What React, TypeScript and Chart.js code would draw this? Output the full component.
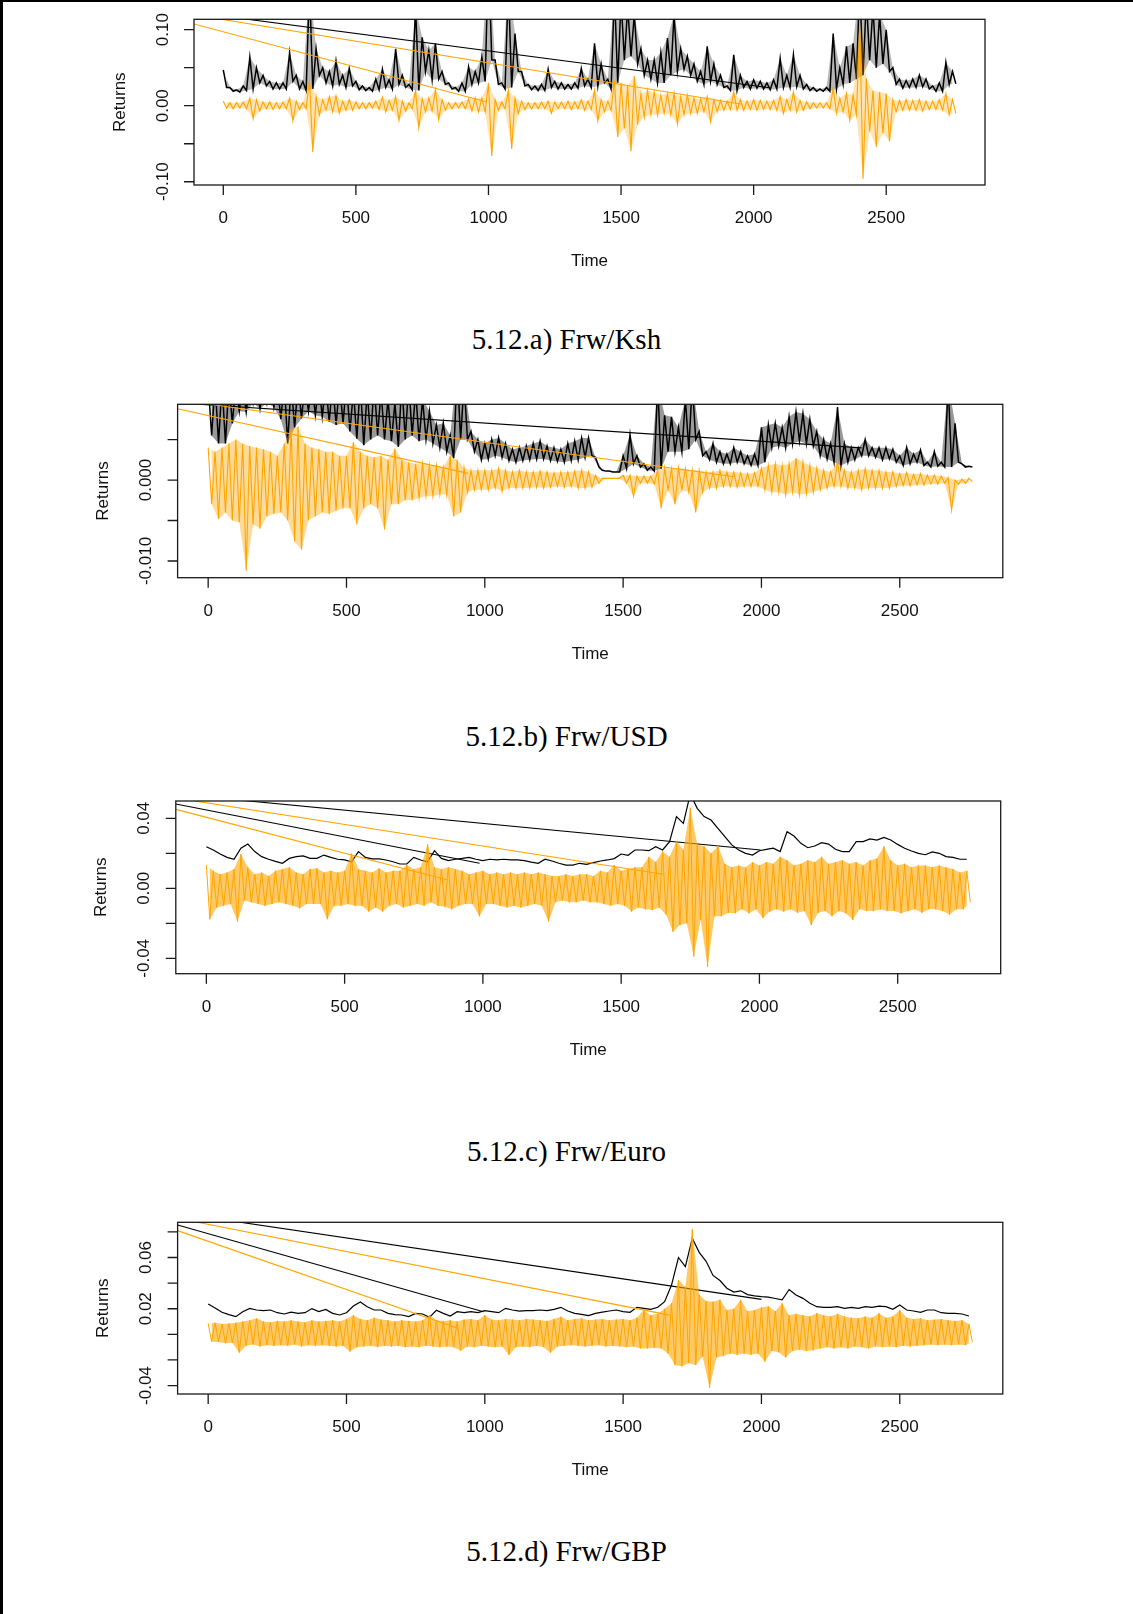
import { useEffect, useRef } from "react";
import { Chart, registerables } from "chart.js";

Chart.register(...registerables);

// Every series is stored per 25-step bin of the time axis (high and low of the bin).
const STEP = 25;
const X_MIN = -110.5;
const X_MAX = 2872.5;
const X_TICKS = [0, 500, 1000, 1500, 2000, 2500];

// ---------- 5.12.a) Frw/Ksh ----------
const kshVolHi = [
  0.047, 0.024, 0.021, 0.026, 0.064, 0.050, 0.040, 0.032, 0.030, 0.030,
  0.070, 0.040, 0.032, 0.160, 0.075, 0.050, 0.045, 0.059, 0.040, 0.049,
  0.032, 0.026, 0.024, 0.035, 0.048, 0.034, 0.075, 0.040, 0.028, 0.130,
  0.090, 0.073, 0.082, 0.045, 0.030, 0.024, 0.030, 0.051, 0.045, 0.064,
  0.200, 0.060, 0.030, 0.160, 0.095, 0.045, 0.028, 0.026, 0.028, 0.048,
  0.032, 0.030, 0.028, 0.030, 0.049, 0.035, 0.082, 0.055, 0.035, 0.150,
  0.140, 0.130, 0.120, 0.075, 0.060, 0.060, 0.070, 0.089, 0.120, 0.075,
  0.065, 0.055, 0.045, 0.078, 0.055, 0.040, 0.026, 0.067, 0.040, 0.032,
  0.034, 0.032, 0.030, 0.034, 0.062, 0.040, 0.067, 0.040, 0.028, 0.024,
  0.022, 0.024, 0.095, 0.050, 0.078, 0.082, 0.160, 0.140, 0.130, 0.120,
  0.100, 0.050, 0.035, 0.033, 0.035, 0.040, 0.035, 0.026, 0.030, 0.057, 0.045,
];
const kshVolLo = [
  0.024, 0.019, 0.018, 0.020, 0.022, 0.030, 0.026, 0.022, 0.022, 0.022,
  0.032, 0.022, 0.020, 0.022, 0.040, 0.030, 0.026, 0.028, 0.024, 0.026,
  0.021, 0.020, 0.019, 0.021, 0.024, 0.022, 0.028, 0.024, 0.021, 0.020,
  0.045, 0.034, 0.035, 0.028, 0.022, 0.019, 0.019, 0.028, 0.030, 0.032,
  0.060, 0.028, 0.022, 0.024, 0.045, 0.026, 0.021, 0.020, 0.020, 0.024,
  0.022, 0.022, 0.022, 0.023, 0.026, 0.024, 0.026, 0.030, 0.022, 0.030,
  0.060, 0.065, 0.055, 0.040, 0.035, 0.030, 0.030, 0.040, 0.045, 0.048,
  0.040, 0.032, 0.028, 0.032, 0.028, 0.024, 0.020, 0.020, 0.024, 0.022,
  0.023, 0.022, 0.021, 0.022, 0.024, 0.024, 0.025, 0.022, 0.020, 0.019,
  0.019, 0.019, 0.022, 0.028, 0.030, 0.035, 0.040, 0.060, 0.050, 0.055,
  0.045, 0.028, 0.023, 0.024, 0.024, 0.025, 0.022, 0.019, 0.019, 0.028, 0.029,
];
const kshRetHi = [
  0.006, 0.004, 0.004, 0.005, 0.010, 0.008, 0.005, 0.005, 0.004, 0.005,
  0.010, 0.006, 0.004, 0.034, 0.012, 0.008, 0.012, 0.013, 0.006, 0.008,
  0.005, 0.004, 0.004, 0.006, 0.011, 0.007, 0.012, 0.006, 0.004, 0.020,
  0.009, 0.010, 0.021, 0.008, 0.004, 0.004, 0.005, 0.009, 0.010, 0.010,
  0.030, 0.008, 0.005, 0.020, 0.010, 0.006, 0.004, 0.004, 0.005, 0.006,
  0.005, 0.005, 0.006, 0.005, 0.008, 0.006, 0.020, 0.008, 0.006, 0.034,
  0.030, 0.026, 0.039, 0.016, 0.020, 0.018, 0.014, 0.016, 0.016, 0.012,
  0.014, 0.010, 0.009, 0.012, 0.008, 0.007, 0.006, 0.018, 0.008, 0.006,
  0.008, 0.007, 0.006, 0.007, 0.012, 0.008, 0.018, 0.007, 0.005, 0.004,
  0.004, 0.004, 0.023, 0.010, 0.016, 0.014, 0.105, 0.036, 0.020, 0.018,
  0.016, 0.008, 0.007, 0.008, 0.007, 0.008, 0.006, 0.006, 0.008, 0.016, 0.008,
];
const kshRetLo = [
  -0.003, -0.004, -0.003, -0.004, -0.017, -0.007, -0.004, -0.005, -0.004, -0.004,
  -0.020, -0.005, -0.004, -0.061, -0.012, -0.006, -0.008, -0.010, -0.006, -0.006,
  -0.004, -0.004, -0.003, -0.005, -0.008, -0.006, -0.019, -0.007, -0.004, -0.029,
  -0.008, -0.007, -0.018, -0.006, -0.004, -0.003, -0.004, -0.007, -0.008, -0.008,
  -0.066, -0.006, -0.004, -0.057, -0.010, -0.005, -0.004, -0.004, -0.004, -0.010,
  -0.004, -0.004, -0.005, -0.004, -0.006, -0.005, -0.020, -0.008, -0.006, -0.041,
  -0.030, -0.060, -0.025, -0.015, -0.012, -0.012, -0.010, -0.012, -0.024, -0.012,
  -0.010, -0.010, -0.008, -0.021, -0.008, -0.006, -0.005, -0.006, -0.006, -0.005,
  -0.006, -0.005, -0.005, -0.006, -0.010, -0.006, -0.008, -0.006, -0.004, -0.003,
  -0.003, -0.004, -0.010, -0.008, -0.019, -0.012, -0.096, -0.034, -0.054, -0.036,
  -0.047, -0.008, -0.006, -0.006, -0.006, -0.007, -0.005, -0.005, -0.006, -0.012, -0.010,
];
// Straight return strokes: [t0, v0, t1, v1]
const kshBlackSegs = [[-110.5, 0.123, 2060, 0.0237]];
const kshOrangeSegs = [
  [-110.5, 0.1196, 1957, 0.002],
  [-110.5, 0.1075, 994, 0.005],
];
const kshYTicks = [-0.1, -0.05, 0, 0.05, 0.1];
const kshYLabels = ["-0.10", "", "0.00", "", "0.10"];

// ---------- 5.12.b) Frw/USD ----------
const usdVolHi = [
  0.012, 0.012, 0.012, 0.012, 0.012, 0.012, 0.012, 0.012, 0.012, 0.012,
  0.012, 0.012, 0.012, 0.012, 0.012, 0.012, 0.012, 0.012, 0.012, 0.012,
  0.012, 0.011, 0.012, 0.011, 0.012, 0.011, 0.010, 0.0095, 0.012, 0.012,
  0.011, 0.010, 0.0085, 0.0068, 0.0070, 0.0055, 0.014, 0.012, 0.0060, 0.0050,
  0.0045, 0.0050, 0.0052, 0.0045, 0.0038, 0.0040, 0.0042, 0.0045, 0.0048, 0.0042,
  0.0040, 0.0038, 0.0045, 0.0048, 0.0052, 0.0052, 0.0028, 0.0012, 0.0011, 0.0010,
  0.0030, 0.0056, 0.0030, 0.0020, 0.0016, 0.012, 0.0080, 0.0078, 0.0065, 0.0100,
  0.012, 0.0060, 0.0035, 0.0045, 0.0035, 0.0032, 0.0040, 0.0035, 0.0030, 0.0032,
  0.0065, 0.0068, 0.0070, 0.0065, 0.0078, 0.0084, 0.0082, 0.0075, 0.0060, 0.0050,
  0.0045, 0.0090, 0.0045, 0.0040, 0.0040, 0.0050, 0.0040, 0.0040, 0.0040, 0.0038,
  0.0030, 0.0040, 0.0032, 0.0037, 0.0022, 0.0035, 0.0022, 0.012, 0.0070, 0.0020, 0.0017,
];
const usdVolLo = [
  0.0055, 0.0045, 0.0045, 0.0070, 0.0085, 0.0084, 0.0095, 0.0088, 0.0095, 0.0090,
  0.0075, 0.0045, 0.0065, 0.0076, 0.0085, 0.0080, 0.0078, 0.0072, 0.0068, 0.0070,
  0.0060, 0.0051, 0.0043, 0.0050, 0.0055, 0.0050, 0.0048, 0.0041, 0.0050, 0.0055,
  0.0048, 0.0050, 0.0045, 0.0040, 0.0035, 0.0027, 0.0050, 0.0050, 0.0035, 0.0025,
  0.0026, 0.0030, 0.0028, 0.0024, 0.0022, 0.0024, 0.0025, 0.0026, 0.0026, 0.0024,
  0.0023, 0.0022, 0.0024, 0.0025, 0.0028, 0.0030, 0.0016, 0.0011, 0.0010, 0.0010,
  0.0014, 0.0020, 0.0016, 0.0012, 0.0011, 0.0014, 0.0035, 0.0035, 0.0035, 0.0038,
  0.0050, 0.0030, 0.0025, 0.0022, 0.0020, 0.0020, 0.0022, 0.0020, 0.0018, 0.0018,
  0.0022, 0.0040, 0.0042, 0.0040, 0.0045, 0.0048, 0.0045, 0.0042, 0.0030, 0.0026,
  0.0022, 0.0018, 0.0022, 0.0025, 0.0030, 0.0030, 0.0028, 0.0025, 0.0026, 0.0022,
  0.0018, 0.0020, 0.0022, 0.0018, 0.0016, 0.0017, 0.0016, 0.0016, 0.0022, 0.0016, 0.0016,
];
const usdRetHi = [
  0.0040, 0.0035, 0.0040, 0.0045, 0.0050, 0.0045, 0.0042, 0.0040, 0.0038, 0.0035,
  0.0030, 0.0045, 0.0063, 0.0066, 0.0045, 0.0040, 0.0038, 0.0035, 0.0035, 0.0030,
  0.0030, 0.0047, 0.0035, 0.0030, 0.0028, 0.0030, 0.0025, 0.0039, 0.0025, 0.0022,
  0.0020, 0.0020, 0.0018, 0.0018, 0.0016, 0.0030, 0.0025, 0.0015, 0.0012, 0.0012,
  0.0012, 0.0012, 0.0014, 0.0012, 0.0010, 0.0012, 0.0010, 0.0010, 0.0011, 0.0010,
  0.0009, 0.0010, 0.0010, 0.0011, 0.0012, 0.0010, 0.0006, 0.0002, 0.0002, 0.0002,
  0.0006, 0.0006, 0.0005, 0.0005, 0.0005, 0.0012, 0.0015, 0.0014, 0.0015, 0.0014,
  0.0012, 0.0012, 0.0010, 0.0010, 0.0012, 0.0010, 0.0010, 0.0009, 0.0008, 0.0009,
  0.0015, 0.0018, 0.0020, 0.0018, 0.0020, 0.0027, 0.0022, 0.0018, 0.0015, 0.0012,
  0.0010, 0.0023, 0.0012, 0.0010, 0.0012, 0.0014, 0.0012, 0.0012, 0.0010, 0.0010,
  0.0008, 0.0009, 0.0007, 0.0008, 0.0006, 0.0006, 0.0005, 0.0003, 0.0000, 0.0001, 0.0002,
];
const usdRetLo = [
  -0.0030, -0.0048, -0.0040, -0.0050, -0.0052, -0.0112, -0.0055, -0.0060, -0.0045, -0.0042,
  -0.0040, -0.0050, -0.0076, -0.0086, -0.0050, -0.0045, -0.0040, -0.0042, -0.0038, -0.0035,
  -0.0035, -0.0055, -0.0035, -0.0030, -0.0035, -0.0061, -0.0030, -0.0030, -0.0025, -0.0025,
  -0.0022, -0.0020, -0.0020, -0.0018, -0.0018, -0.0045, -0.0040, -0.0015, -0.0012, -0.0012,
  -0.0012, -0.0010, -0.0014, -0.0010, -0.0010, -0.0010, -0.0010, -0.0009, -0.0010, -0.0009,
  -0.0008, -0.0009, -0.0008, -0.0010, -0.0010, -0.0009, -0.0004, 0.0002, 0.0002, 0.0002,
  -0.0004, -0.0020, -0.0004, -0.0004, -0.0005, -0.0035, -0.0012, -0.0030, -0.0012, -0.0015,
  -0.0040, -0.0015, -0.0010, -0.0010, -0.0008, -0.0008, -0.0009, -0.0008, -0.0008, -0.0008,
  -0.0012, -0.0015, -0.0015, -0.0018, -0.0015, -0.0018, -0.0017, -0.0015, -0.0012, -0.0010,
  -0.0008, -0.0008, -0.0010, -0.0010, -0.0012, -0.0010, -0.0010, -0.0010, -0.0010, -0.0008,
  -0.0007, -0.0007, -0.0006, -0.0006, -0.0005, -0.0005, -0.0004, -0.0037, -0.0005, -0.0004, -0.0002,
];
const usdBlackSegs = [[-110.5, 0.00953, 2362, 0.00397]];
const usdOrangeSegs = [
  [-110.5, 0.0099, 1902, 0.0004],
  [-110.5, 0.0088, 940, 0.00082],
];
const usdYTicks = [-0.01, -0.005, 0, 0.005];
const usdYLabels = ["-0.010", "", "0.000", ""];

// ---------- 5.12.c) Frw/Euro ----------
const euroVol = [
  0.0238, 0.0219, 0.0196, 0.0177, 0.0166, 0.0229, 0.0253, 0.0210, 0.0181, 0.0166,
  0.0154, 0.0143, 0.0171, 0.0181, 0.0185, 0.0171, 0.0171, 0.0190, 0.0177, 0.0166,
  0.0162, 0.0152, 0.0210, 0.0177, 0.0168, 0.0168, 0.0162, 0.0152, 0.0139, 0.0139,
  0.0177, 0.0162, 0.0152, 0.0215, 0.0171, 0.0158, 0.0166, 0.0171, 0.0177, 0.0166,
  0.0158, 0.0166, 0.0162, 0.0166, 0.0162, 0.0162, 0.0158, 0.0150, 0.0143, 0.0166,
  0.0156, 0.0143, 0.0133, 0.0133, 0.0143, 0.0137, 0.0147, 0.0156, 0.0162, 0.0170,
  0.0196, 0.0189, 0.0219, 0.0219, 0.0215, 0.0238, 0.0219, 0.0267, 0.0410, 0.0371,
  0.0540, 0.0457, 0.0410, 0.0390, 0.0343, 0.0295, 0.0248, 0.0219, 0.0200, 0.0190,
  0.0215, 0.0223, 0.0229, 0.0210, 0.0324, 0.0299, 0.0257, 0.0232, 0.0242, 0.0261,
  0.0253, 0.0223, 0.0210, 0.0210, 0.0267, 0.0267, 0.0282, 0.0276, 0.0291, 0.0276,
  0.0251, 0.0229, 0.0213, 0.0200, 0.0192, 0.0208, 0.0200, 0.0181, 0.0177, 0.0166, 0.0166,
];
const euroRetHi = [
  0.0133, 0.010, 0.008, 0.009, 0.011, 0.0196, 0.012, 0.008, 0.009, 0.007,
  0.010, 0.011, 0.012, 0.009, 0.008, 0.011, 0.0114, 0.009, 0.010, 0.009,
  0.010, 0.020, 0.011, 0.010, 0.009, 0.0114, 0.009, 0.010, 0.010, 0.0133,
  0.011, 0.012, 0.0253, 0.012, 0.011, 0.012, 0.011, 0.010, 0.008, 0.009,
  0.010, 0.008, 0.009, 0.008, 0.009, 0.008, 0.009, 0.008, 0.009, 0.008,
  0.007, 0.007, 0.008, 0.007, 0.008, 0.008, 0.007, 0.010, 0.009, 0.0133,
  0.010, 0.011, 0.012, 0.012, 0.018, 0.015, 0.021, 0.018, 0.0267, 0.022,
  0.046, 0.025, 0.024, 0.020, 0.0242, 0.014, 0.012, 0.013, 0.012, 0.015,
  0.013, 0.015, 0.014, 0.018, 0.016, 0.013, 0.014, 0.016, 0.015, 0.018,
  0.014, 0.015, 0.016, 0.014, 0.015, 0.013, 0.016, 0.017, 0.024, 0.016,
  0.013, 0.014, 0.012, 0.013, 0.013, 0.012, 0.013, 0.012, 0.011, 0.009, 0.010,
];
const euroRetLo = [
  -0.0177, -0.011, -0.010, -0.009, -0.019, -0.007, -0.008, -0.009, -0.010, -0.009,
  -0.008, -0.009, -0.010, -0.0114, -0.009, -0.009, -0.009, -0.0177, -0.010, -0.010,
  -0.009, -0.010, -0.010, -0.0133, -0.011, -0.0133, -0.010, -0.009, -0.011, -0.010,
  -0.009, -0.010, -0.008, -0.010, -0.0105, -0.012, -0.010, -0.009, -0.009, -0.016,
  -0.009, -0.009, -0.010, -0.011, -0.010, -0.011, -0.010, -0.009, -0.010, -0.019,
  -0.008, -0.007, -0.008, -0.008, -0.007, -0.008, -0.008, -0.009, -0.010, -0.009,
  -0.010, -0.0133, -0.011, -0.012, -0.0124, -0.011, -0.015, -0.0248, -0.021, -0.020,
  -0.039, -0.018, -0.0448, -0.016, -0.016, -0.014, -0.0143, -0.012, -0.0143, -0.012,
  -0.017, -0.0133, -0.012, -0.0133, -0.012, -0.014, -0.013, -0.021, -0.014, -0.013,
  -0.016, -0.013, -0.0143, -0.018, -0.012, -0.013, -0.013, -0.012, -0.013, -0.013,
  -0.0143, -0.013, -0.012, -0.014, -0.012, -0.012, -0.013, -0.015, -0.012, -0.012, -0.008,
];
const euroBlackSegs = [
  [-110.5, 0.0539, 2004, 0.0219],
  [-110.5, 0.0482, 988, 0.0143],
];
const euroOrangeSegs = [
  [-110.5, 0.0516, 1652, 0.008],
  [-110.5, 0.0451, 872, 0.0047],
];
const euroYTicks = [-0.04, -0.02, 0, 0.02, 0.04];
const euroYLabels = ["-0.04", "", "0.00", "", "0.04"];

// ---------- 5.12.d) Frw/GBP ----------
const gbpVol = [
  0.0237, 0.0206, 0.0172, 0.0154, 0.0138, 0.0177, 0.0203, 0.0190, 0.0185, 0.0190,
  0.0169, 0.0159, 0.0174, 0.0164, 0.0169, 0.0201, 0.0177, 0.0195, 0.0164, 0.0151,
  0.0169, 0.0221, 0.0253, 0.0216, 0.0190, 0.0190, 0.0164, 0.0154, 0.0151, 0.0138,
  0.0164, 0.0159, 0.0133, 0.0188, 0.0164, 0.0143, 0.0177, 0.0169, 0.0177, 0.0169,
  0.0185, 0.0177, 0.0169, 0.0203, 0.0190, 0.0182, 0.0185, 0.0185, 0.0190, 0.0185,
  0.0195, 0.0211, 0.0182, 0.0164, 0.0156, 0.0146, 0.0164, 0.0174, 0.0182, 0.0190,
  0.0177, 0.0172, 0.0211, 0.0203, 0.0195, 0.0211, 0.0255, 0.0385, 0.0600, 0.0529,
  0.0750, 0.0640, 0.0570, 0.0460, 0.0420, 0.0360, 0.0330, 0.0340, 0.0310, 0.0300,
  0.0294, 0.0290, 0.0280, 0.0270, 0.0350, 0.0307, 0.0281, 0.0242, 0.0216, 0.0211,
  0.0211, 0.0216, 0.0203, 0.0211, 0.0203, 0.0216, 0.0211, 0.0221, 0.0216, 0.0195,
  0.0229, 0.0190, 0.0182, 0.0172, 0.0190, 0.0190, 0.0169, 0.0164, 0.0164, 0.0159, 0.0143,
];
const gbpRetHi = [
  0.0086, 0.0090, 0.0080, 0.0085, 0.0090, 0.0100, 0.0110, 0.0125, 0.0100, 0.0095,
  0.0105, 0.0100, 0.0110, 0.0100, 0.0095, 0.0110, 0.0100, 0.0105, 0.0110, 0.0100,
  0.0120, 0.0150, 0.0120, 0.0110, 0.0130, 0.0115, 0.0110, 0.0100, 0.0110, 0.0105,
  0.0100, 0.0110, 0.0150, 0.0110, 0.0105, 0.0110, 0.0100, 0.0115, 0.0120, 0.0110,
  0.0150, 0.0115, 0.0110, 0.0120, 0.0115, 0.0110, 0.0120, 0.0115, 0.0110, 0.0105,
  0.0120, 0.0138, 0.0110, 0.0120, 0.0125, 0.0110, 0.0115, 0.0120, 0.0110, 0.0115,
  0.0120, 0.0110, 0.0130, 0.0190, 0.0150, 0.0160, 0.0200, 0.0242, 0.0424, 0.0372,
  0.0820, 0.0310, 0.0260, 0.0255, 0.0270, 0.0190, 0.0200, 0.0270, 0.0180, 0.0190,
  0.0210, 0.0220, 0.0180, 0.0242, 0.0150, 0.0160, 0.0150, 0.0140, 0.0165, 0.0150,
  0.0140, 0.0160, 0.0140, 0.0130, 0.0125, 0.0140, 0.0130, 0.0165, 0.0130, 0.0140,
  0.0190, 0.0130, 0.0120, 0.0125, 0.0110, 0.0115, 0.0120, 0.0110, 0.0105, 0.0110, 0.0080,
];
const gbpRetLo = [
  -0.0057, -0.0060, -0.0070, -0.0065, -0.0143, -0.0090, -0.0080, -0.0095, -0.0085, -0.0090,
  -0.0085, -0.0090, -0.0080, -0.0095, -0.0085, -0.0090, -0.0085, -0.0090, -0.0095, -0.0090,
  -0.0135, -0.0100, -0.0095, -0.0090, -0.0100, -0.0090, -0.0095, -0.0090, -0.0100, -0.0095,
  -0.0100, -0.0090, -0.0095, -0.0100, -0.0095, -0.0100, -0.0128, -0.0095, -0.0100, -0.0090,
  -0.0095, -0.0100, -0.0095, -0.0161, -0.0100, -0.0095, -0.0100, -0.0090, -0.0100, -0.0143,
  -0.0095, -0.0090, -0.0085, -0.0090, -0.0095, -0.0090, -0.0085, -0.0095, -0.0090, -0.0095,
  -0.0100, -0.0095, -0.0110, -0.0110, -0.0105, -0.0110, -0.0150, -0.0240, -0.0250, -0.0225,
  -0.0240, -0.0175, -0.0417, -0.0180, -0.0170, -0.0150, -0.0160, -0.0150, -0.0160, -0.0150,
  -0.0214, -0.0130, -0.0140, -0.0180, -0.0130, -0.0120, -0.0130, -0.0125, -0.0110, -0.0100,
  -0.0110, -0.0100, -0.0110, -0.0095, -0.0100, -0.0110, -0.0095, -0.0100, -0.0095, -0.0100,
  -0.0090, -0.0095, -0.0090, -0.0085, -0.0080, -0.0085, -0.0080, -0.0085, -0.0080, -0.0085, -0.0060,
];
const gbpBlackSegs = [
  [-110.5, 0.0948, 2000, 0.0273],
  [-110.5, 0.0854, 995, 0.0177],
];
const gbpOrangeSegs = [
  [-110.5, 0.0906, 1668, 0.015],
  [-110.5, 0.081, 902, 0.0047],
];
const gbpYTicks = [-0.04, -0.02, 0, 0.02, 0.04, 0.06, 0.08];
const gbpYLabels = ["-0.04", "", "", "0.02", "", "0.06", ""];

// ---------- helpers ----------
type Pt = { x: number; y: number };

// high at the start of each bin, low at its middle
function hiTrace(hi: number[]): Pt[] {
  return hi.map((v, i) => ({ x: i * STEP, y: v }));
}
function loTrace(lo: number[]): Pt[] {
  return lo.map((v, i) => ({ x: i * STEP + STEP / 2, y: v }));
}
// one continuous trace running through every bin's high and low
function binTrace(hi: number[], lo: number[]): Pt[] {
  const pts: Pt[] = [];
  hi.forEach((h, i) => {
    pts.push({ x: i * STEP, y: h });
    pts.push({ x: i * STEP + STEP / 2, y: lo[i] });
  });
  return pts;
}
function plainTrace(vals: number[]): Pt[] {
  return vals.map((v, i) => ({ x: i * STEP, y: v }));
}
function segTrace(s: number[]): Pt[] {
  return [
    { x: s[0], y: s[1] },
    { x: s[2], y: s[3] },
  ];
}

const ORANGE = "#FFA500";
const BLACK = "#000000";
const SANS = '"Liberation Sans", Arial, Helvetica, sans-serif';
const SERIF = '"Liberation Serif", "Times New Roman", Times, serif';

function lineSet(data: Pt[], color: string, width: number, extra: any = {}) {
  return {
    data,
    borderColor: color,
    borderWidth: width,
    pointRadius: 0,
    fill: false,
    tension: 0,
    clip: 0,
    ...extra,
  };
}

// the trace through the bin highs and lows, over a light shading of the same band
function bandSets(hi: number[], lo: number[], color: string, shade: string, width: number) {
  return [
    lineSet(binTrace(hi, lo), color, width),
    lineSet(hiTrace(hi), "rgba(0,0,0,0)", 1, { fill: "+1", backgroundColor: shade }),
    lineSet(loTrace(lo), "rgba(0,0,0,0)", 1),
  ];
}

// Base-graphics style frame: box, outward ticks, rotated y labels, axis titles
function frameAxes(yTicks: number[], yLabels: string[]) {
  return {
    id: "frameAxes",
    afterDraw(chart: any) {
      const { ctx, chartArea: a } = chart;
      const xs = chart.scales.x;
      const ys = chart.scales.y;
      ctx.save();
      ctx.strokeStyle = "#1a1a1a";
      ctx.lineWidth = 1.3;
      ctx.strokeRect(a.left, a.top, a.right - a.left, a.bottom - a.top);

      ctx.beginPath();
      X_TICKS.forEach((t) => {
        const px = xs.getPixelForValue(t);
        ctx.moveTo(px, a.bottom);
        ctx.lineTo(px, a.bottom + 10);
      });
      yTicks.forEach((v) => {
        const py = ys.getPixelForValue(v);
        ctx.moveTo(a.left, py);
        ctx.lineTo(a.left - 10, py);
      });
      ctx.stroke();

      ctx.fillStyle = "#111";
      ctx.font = `17px ${SANS}`;
      ctx.textAlign = "center";
      ctx.textBaseline = "middle";
      X_TICKS.forEach((t) => {
        ctx.fillText(String(t), xs.getPixelForValue(t), a.bottom + 33.5);
      });
      yTicks.forEach((v, k) => {
        if (!yLabels[k]) return;
        ctx.save();
        ctx.translate(a.left - 31, ys.getPixelForValue(v));
        ctx.rotate(-Math.PI / 2);
        ctx.fillText(yLabels[k], 0, 0);
        ctx.restore();
      });
      ctx.fillText("Time", (a.left + a.right) / 2, a.bottom + 76.5);
      ctx.save();
      ctx.translate(a.left - 74, (a.top + a.bottom) / 2);
      ctx.rotate(-Math.PI / 2);
      ctx.fillText("Returns", 0, 0);
      ctx.restore();
      ctx.restore();
    },
  };
}

type PanelProps = {
  top: number;
  height: number;
  box: [number, number, number, number];
  yMin: number;
  yMax: number;
  yTicks: number[];
  yLabels: string[];
  volHi?: number[];
  volLo?: number[];
  vol?: number[];
  volShade?: string;
  retHi: number[];
  retLo: number[];
  retShade: string;
  retWidth: number;
  blackSegs: number[][];
  orangeSegs: number[][];
};

function Panel(p: PanelProps) {
  const ref = useRef<HTMLCanvasElement>(null);
  useEffect(() => {
    if (!ref.current) return;
    const [bl, bt, br, bb] = p.box;
    const blackSets =
      p.volHi && p.volLo
        ? bandSets(p.volHi, p.volLo, BLACK, p.volShade || "rgba(0,0,0,0.3)", 1.5)
        : [lineSet(plainTrace(p.vol || []), BLACK, 1.2)];
    // earlier datasets are painted last, so the returns sit on top
    const datasets: any[] = [
      ...bandSets(p.retHi, p.retLo, ORANGE, p.retShade, p.retWidth),
      ...p.orangeSegs.map((s) => lineSet(segTrace(s), ORANGE, 1.1)),
      ...blackSets,
      ...p.blackSegs.map((s) => lineSet(segTrace(s), BLACK, 1.1)),
    ];
    const chart = new Chart(ref.current, {
      type: "line",
      data: { datasets },
      options: {
        responsive: false,
        animation: false,
        devicePixelRatio: 1,
        events: [],
        layout: {
          padding: { left: bl, top: bt, right: 1133 - br, bottom: p.height - bb },
        },
        plugins: {
          legend: { display: false },
          tooltip: { enabled: false },
          title: { display: false },
        },
        scales: {
          x: { type: "linear", min: X_MIN, max: X_MAX, display: false },
          y: { type: "linear", min: p.yMin, max: p.yMax, display: false },
        },
      },
      plugins: [frameAxes(p.yTicks, p.yLabels)],
    } as any);
    return () => chart.destroy();
  }, []);
  return (
    <canvas
      ref={ref}
      width={1133}
      height={p.height}
      style={{ position: "absolute", left: 0, top: p.top, width: 1133, height: p.height }}
    />
  );
}

function Caption({ text, centerY }: { text: string; centerY: number }) {
  return (
    <div
      style={{
        position: "absolute",
        left: 0,
        width: 1133,
        top: centerY - 14.7,
        textAlign: "center",
        fontFamily: SERIF,
        fontSize: 29,
        lineHeight: "29px",
        color: "#000",
        whiteSpace: "nowrap",
      }}
    >
      {text}
    </div>
  );
}

export default function App() {
  return (
    <div
      style={{
        position: "absolute",
        left: 0,
        top: 0,
        width: 1133,
        height: 1614,
        background: "#fff",
        overflow: "hidden",
      }}
    >
      <div style={{ position: "absolute", left: 0, top: 0, width: 1133, height: 2, background: "#000" }} />
      <div style={{ position: "absolute", left: 0, top: 0, width: 3, height: 1614, background: "#000" }} />

      <Panel
        top={0}
        height={290}
        box={[194, 19.3, 985, 185]}
        yMin={-0.1043}
        yMax={0.1137}
        yTicks={kshYTicks}
        yLabels={kshYLabels}
        volHi={kshVolHi}
        volLo={kshVolLo}
        volShade="rgba(0,0,0,0.28)"
        retHi={kshRetHi}
        retLo={kshRetLo}
        retShade="rgba(255,165,0,0.3)"
        retWidth={1.1}
        blackSegs={kshBlackSegs}
        orangeSegs={kshOrangeSegs}
      />
      <Caption text="5.12.a) Frw/Ksh" centerY={339.3} />

      <Panel
        top={390}
        height={290}
        box={[177.6, 14.3, 1002.8, 187.7]}
        yMin={-0.01206}
        yMax={0.00935}
        yTicks={usdYTicks}
        yLabels={usdYLabels}
        volHi={usdVolHi}
        volLo={usdVolLo}
        volShade="rgba(0,0,0,0.4)"
        retHi={usdRetHi}
        retLo={usdRetLo}
        retShade="rgba(255,165,0,0.4)"
        retWidth={1.1}
        blackSegs={usdBlackSegs}
        orangeSegs={usdOrangeSegs}
      />
      <Caption text="5.12.b) Frw/USD" centerY={736.8} />

      <Panel
        top={785}
        height={290}
        box={[175.8, 16, 1000.7, 188.7]}
        yMin={-0.0488}
        yMax={0.0499}
        yTicks={euroYTicks}
        yLabels={euroYLabels}
        vol={euroVol}
        retHi={euroRetHi}
        retLo={euroRetLo}
        retShade="rgba(255,165,0,0.6)"
        retWidth={1}
        blackSegs={euroBlackSegs}
        orangeSegs={euroOrangeSegs}
      />
      <Caption text="5.12.c) Frw/Euro" centerY={1151.5} />

      <Panel
        top={1205}
        height={290}
        box={[177.6, 17.3, 1002.8, 189]}
        yMin={-0.0466}
        yMax={0.0875}
        yTicks={gbpYTicks}
        yLabels={gbpYLabels}
        vol={gbpVol}
        retHi={gbpRetHi}
        retLo={gbpRetLo}
        retShade="rgba(255,165,0,0.6)"
        retWidth={1}
        blackSegs={gbpBlackSegs}
        orangeSegs={gbpOrangeSegs}
      />
      <Caption text="5.12.d) Frw/GBP" centerY={1551.7} />
    </div>
  );
}
